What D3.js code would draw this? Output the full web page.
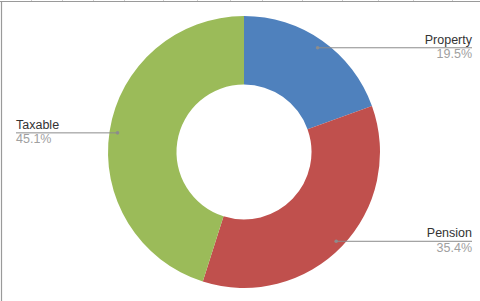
<!DOCTYPE html>
<html lang="en">
<head>
<meta charset="utf-8" />
<title>Donut</title>
<script src="https://cdn.jsdelivr.net/npm/d3@7"></script>
<style>
  body { margin: 0; background: #fff; font-family: "Liberation Sans", Arial, sans-serif; }
  .name { fill: #333; font-size: 12.5px; }
  .pct { fill: #a0a0a0; font-size: 12.5px; }
  .leader { stroke: #8c8c8c; stroke-width: 1; fill: none; }
</style>
</head>
<body>
<div id="chart"></div>
<script>
var width = 480, height = 301;

var categories = ["Property", "Pension", "Taxable"];
var values = [19.5, 35.4, 45.1];
var colors = ["#4f81bd", "#c0504d", "#9bbb59"];
// which side each label sits on
var sides = ["right", "right", "left"];
var headerTicks = [31, 62, 93, 124, 163, 197, 230, 262, 302, 342, 378, 413, 452];

var cx = 244, cy = 152;
var outerR = 136, innerR = 67.5, dotR = 128;

var svg = d3.select("#chart").append("svg")
    .attr("width", width)
    .attr("height", height);

// frame left over from the sheet it was cut from
svg.selectAll(".htick").data(headerTicks).enter().append("line")
    .attr("x1", function(d) { return d + 0.5; }).attr("x2", function(d) { return d + 0.5; })
    .attr("y1", 0).attr("y2", 1)
    .attr("stroke", "#cfcfcf");
svg.append("line").attr("x1", 0).attr("x2", width).attr("y1", 1.5).attr("y2", 1.5)
    .attr("stroke", "#9a9a9a").attr("stroke-width", 1.2);
svg.append("line").attr("x1", 1.5).attr("x2", 1.5).attr("y1", 1).attr("y2", height)
    .attr("stroke", "#9a9a9a").attr("stroke-width", 1.2);

var data = categories.map(function(c, i) { return {name: c, value: values[i], color: colors[i], side: sides[i]}; });

var pie = d3.pie().sort(null).value(function(d) { return d.value; });
var arc = d3.arc().innerRadius(innerR).outerRadius(outerR);

var g = svg.append("g").attr("transform", "translate(" + cx + "," + cy + ")");
var arcs = pie(data);

g.selectAll("path.slice").data(arcs).enter().append("path")
    .attr("class", "slice")
    .attr("d", arc)
    .attr("fill", function(d) { return d.data.color; });

var total = d3.sum(values);

arcs.forEach(function(a) {
  var mid = (a.startAngle + a.endAngle) / 2;
  var px = dotR * Math.sin(mid), py = -dotR * Math.cos(mid);
  var endX = a.data.side === "right" ? 472 - cx : 16 - cx;
  var anchor = a.data.side === "right" ? "end" : "start";

  g.append("line").attr("class", "leader")
      .attr("x1", px).attr("y1", py + 0.5).attr("x2", endX).attr("y2", py + 0.5);
  g.append("circle").attr("cx", px).attr("cy", py + 0.5).attr("r", 1.8).attr("fill", "#8c8c8c");

  g.append("text").attr("class", "name")
      .attr("x", endX).attr("y", py - 3.5)
      .attr("text-anchor", anchor)
      .text(a.data.name);
  g.append("text").attr("class", "pct")
      .attr("x", endX).attr("y", py + 11)
      .attr("text-anchor", anchor)
      .text(d3.format(".1f")(a.data.value / total * 100) + "%");
});
</script>
</body>
</html>
